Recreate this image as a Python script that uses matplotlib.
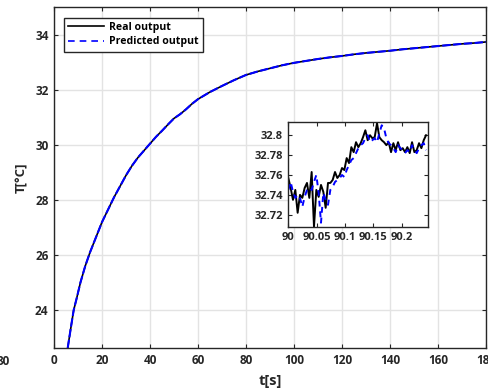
import numpy as np
import matplotlib
matplotlib.use("Agg")
import matplotlib.pyplot as plt

plt.rcParams['font.family'] = ['Open Sans', 'DejaVu Sans']
plt.rcParams['font.weight'] = 'bold'

# main response (both outputs overlap at this scale)
t_main = [5.7, 7, 8.2, 9.5, 11, 13, 15, 17.5, 20, 22.5, 25, 27.5, 30, 32.5, 35, 37.5,
          40, 42.5, 45, 47.5, 50, 52.5, 55, 57.5, 60, 65, 70, 75, 80, 85, 90, 95, 100,
          105, 110, 115, 120, 125, 130, 135, 140, 145, 150, 155, 160, 165, 170, 175, 180]
real_main = [22.62, 23.35, 24.0, 24.45, 25.0, 25.6, 26.1, 26.65, 27.2, 27.65, 28.1, 28.5,
             28.9, 29.25, 29.55, 29.8, 30.05, 30.3, 30.52, 30.75, 30.97, 31.12, 31.3, 31.5,
             31.67, 31.93, 32.15, 32.36, 32.55, 32.68, 32.79, 32.9, 32.99, 33.06, 33.13,
             33.19, 33.24, 33.30, 33.35, 33.39, 33.43, 33.48, 33.52, 33.56, 33.60, 33.64,
             33.68, 33.71, 33.75]
pred_main = list(real_main)

# zoomed window 90 .. 90.243 s
t_zoom = np.linspace(90, 90.243, 60)
real_zoom = [32.757, 32.747, 32.735, 32.745, 32.722, 32.740, 32.737, 32.747, 32.752, 32.737,
             32.763, 32.708, 32.745, 32.738, 32.750, 32.743, 32.727, 32.752, 32.752, 32.755,
             32.763, 32.757, 32.760, 32.767, 32.765, 32.777, 32.772, 32.788, 32.783, 32.793,
             32.788, 32.792, 32.798, 32.805, 32.795, 32.800, 32.797, 32.798, 32.812, 32.798,
             32.795, 32.793, 32.790, 32.793, 32.783, 32.792, 32.785, 32.793, 32.785, 32.787,
             32.783, 32.788, 32.782, 32.793, 32.783, 32.785, 32.792, 32.787, 32.795, 32.800]
pred_zoom = [32.745, 32.753, 32.743, 32.737, 32.740, 32.737, 32.728, 32.738, 32.745, 32.747,
             32.745, 32.753, 32.760, 32.742, 32.712, 32.742, 32.735, 32.730, 32.745, 32.748,
             32.753, 32.755, 32.757, 32.760, 32.758, 32.765, 32.770, 32.775, 32.777, 32.782,
             32.787, 32.790, 32.792, 32.797, 32.800, 32.793, 32.795, 32.797, 32.793, 32.802,
             32.810, 32.807, 32.797, 32.792, 32.790, 32.787, 32.783, 32.790, 32.787, 32.785,
             32.782, 32.785, 32.783, 32.790, 32.785, 32.782, 32.787, 32.790, 32.792, 32.785]

XTICKS = list(range(0, 181, 20))
YTICKS = list(range(24, 35, 2))
ZOOM_XTICKS = [90, 90.05, 90.1, 90.15, 90.2]
ZOOM_XLABELS = ['90', '90.05', '90.1', '90.15', '90.2']
ZOOM_YTICKS = [32.72, 32.74, 32.76, 32.78, 32.8]
ZOOM_YLABELS = ['32.72', '32.74', '32.76', '32.78', '32.8']

SPINE = '#262626'
BLUE = '#0000ff'


def style_axes(ax, size):
    for s in ax.spines.values():
        s.set_color(SPINE)
        s.set_linewidth(1.0)
    ax.tick_params(direction='in', top=True, right=True, length=3, width=0.8,
                   colors=SPINE, labelsize=size, labelcolor='#262626', pad=4)
    for lab in ax.get_xticklabels() + ax.get_yticklabels():
        lab.set_fontweight('bold')


fig = plt.figure(figsize=(4.88, 3.92), dpi=100)
ax = fig.add_axes([0.1107, 0.1122, 0.8852, 0.8699])
ax.plot(t_main, real_main, color='black', lw=1.2, label='Real output')
ax.plot(t_main, pred_main, color=BLUE, lw=1.5, ls=(0, (4, 1.2)), label='_nolegend_')
ax.plot([], [], color=BLUE, lw=1.2, ls=(0, (4, 3)), label='Predicted output')
ax.set_xlim(0, 180)
ax.set_ylim(22.62, 35.02)
ax.set_xticks(XTICKS)
ax.set_yticks(YTICKS)
ax.grid(True, color='#e3e3e3', lw=1.0)
ax.set_axisbelow(True)
style_axes(ax, 8.5)
ax.set_xlabel('t[s]', fontsize=10.5, fontweight='bold', color='#262626', labelpad=5)
ax.set_ylabel('T[°C]', fontsize=9.5, fontweight='bold', color='#262626', labelpad=5)

leg = ax.legend(loc='upper left', bbox_to_anchor=(0.023, 0.968), fancybox=False,
                edgecolor=SPINE, framealpha=1, prop={'size': 7.6, 'weight': 'bold'},
                handlelength=3.4, borderpad=0.4, labelspacing=0.3, handletextpad=0.5,
                borderaxespad=0)
leg.get_frame().set_linewidth(1.0)

ins = fig.add_axes([0.5908, 0.4217, 0.2869, 0.2663])
ins.plot(t_zoom, real_zoom, color='black', lw=1.4)
ins.plot(t_zoom, pred_zoom, color=BLUE, lw=1.4, ls=(0, (3, 2.5)))
ins.set_xlim(90, 90.247)
ins.set_ylim(32.708, 32.813)
ins.set_xticks(ZOOM_XTICKS)
ins.set_xticklabels(ZOOM_XLABELS)
ins.set_yticks(ZOOM_YTICKS)
ins.set_yticklabels(ZOOM_YLABELS)
ins.set_facecolor('white')
style_axes(ins, 8)

# fragment of a neighbouring panel's tick label at the left edge
fig.text(-0.006, 0.079, '80', fontsize=8.5, fontweight='bold', color='#262626',
         ha='left', va='center')

fig.savefig('out.png', dpi=100)
